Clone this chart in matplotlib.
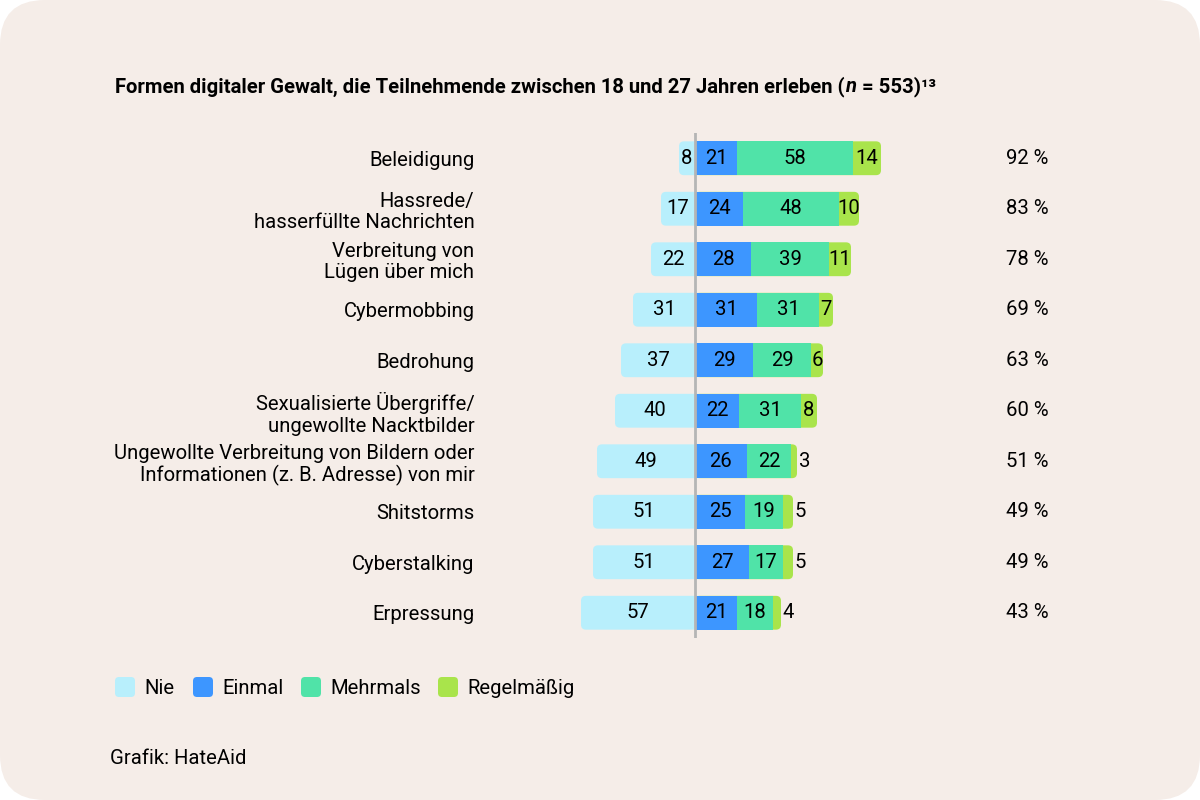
import matplotlib
matplotlib.use("Agg")
import matplotlib.pyplot as plt
from matplotlib.patches import FancyBboxPatch, Rectangle

plt.rcParams["font.family"] = ["Roboto", "DejaVu Sans"]

# data
categories = [
    "Beleidigung",
    "Hassrede/\nhasserfüllte Nachrichten",
    "Verbreitung von\nLügen über mich",
    "Cybermobbing",
    "Bedrohung",
    "Sexualisierte Übergriffe/\nungewollte Nacktbilder",
    "Ungewollte Verbreitung von Bildern oder\nInformationen (z. B. Adresse) von mir",
    "Shitstorms",
    "Cyberstalking",
    "Erpressung",
]
nie = [8, 17, 22, 31, 37, 40, 49, 51, 51, 57]
einmal = [21, 24, 28, 31, 29, 22, 26, 25, 27, 21]
mehrmals = [58, 48, 39, 31, 29, 31, 22, 19, 17, 18]
regelmaessig = [14, 10, 11, 7, 6, 8, 3, 5, 5, 4]
totals = [92, 83, 78, 69, 63, 60, 51, 49, 49, 43]
legend_labels = ["Nie", "Einmal", "Mehrmals", "Regelmäßig"]

C_NIE = "#b8effc"
C_EIN = "#3d96ff"
C_MEHR = "#50e3a8"
C_REG = "#a9e44b"
colors = [C_NIE, C_EIN, C_MEHR, C_REG]
BG = "#f5ede8"
FS = 14.6

fig = plt.figure(figsize=(12, 8), dpi=100, facecolor="white")
# rounded background card
fig.patches.append(FancyBboxPatch((0, 0), 12, 8, boxstyle="round,pad=0,rounding_size=0.45",
                                  transform=fig.dpi_scale_trans, facecolor=BG,
                                  edgecolor="none", zorder=-10))

# axes: 2 px per percent, zero line at x=695 px
ax = fig.add_axes([480 / 1200, 1 - 638 / 800, 600 / 1200, (638 - 133) / 800])
ax.set_xlim(-107.5, 192.5)
ax.set_ylim(len(categories) - 0.5, -0.5)
ax.patch.set_visible(False)
for s in ax.spines.values():
    s.set_visible(False)
ax.set_xticks([])
ax.set_yticks(range(len(categories)))
ax.set_yticklabels(categories, fontsize=FS, linespacing=1.15)
ax.tick_params(axis="y", length=0, pad=4)

h = 0.67
rx = 2.5                    # corner radius in x units
aspect = (5 / 50.5) / rx    # same radius in y units


def rbox(x0, x1, y, color, z):
    p = FancyBboxPatch((x0, y - h / 2), x1 - x0, h,
                       boxstyle=f"round,pad=0,rounding_size={rx}",
                       mutation_aspect=aspect, facecolor=color, edgecolor="none", zorder=z)
    ax.add_patch(p)


for i in range(len(categories)):
    e, m, r, n = einmal[i], mehrmals[i], regelmaessig[i], nie[i]
    tot = e + m + r
    rbox(-n, 4, i, C_NIE, 1)
    rbox(0, tot, i, C_REG, 1.5)
    ax.add_patch(Rectangle((0, i - h / 2), e, h, facecolor=C_EIN, edgecolor="none", zorder=2))
    ax.add_patch(Rectangle((e, i - h / 2), m, h, facecolor=C_MEHR, edgecolor="none", zorder=2))

    kw = dict(va="center", fontsize=FS, color="black", zorder=5)
    ax.text(-n / 2, i, str(n), ha="center", **kw)
    ax.text(e / 2, i, str(e), ha="center", **kw)
    ax.text(e + m / 2, i, str(m), ha="center", **kw)
    if r >= 6:
        ax.text(e + m + r / 2, i, str(r), ha="center", **kw)
    else:
        ax.text(tot + 0.8, i, str(r), ha="left", **kw)
    ax.text(155.5, i, f"{totals[i]} %", ha="left", **kw)

ax.axvline(0, color="#b5b5b5", lw=2, zorder=4)

# title, pieced together for italic n and superscript
fig.canvas.draw()
rend = fig.canvas.get_renderer()
parts = [("Formen digitaler Gewalt, die Teilnehmende zwischen 18 und 27 Jahren erleben (", "normal"),
         ("n", "italic"), (" = 553)¹³", "normal")]
x = 115
for txt, style in parts:
    t = fig.text(x / 1200, 1 - 87 / 800, txt, fontsize=FS, fontweight="bold", style=style,
                 va="center", ha="left")
    bb = t.get_window_extent(renderer=rend)
    x = bb.x1 + (1 if style == "italic" else 0)

# legend
lx = [115, 193, 301, 438]
for xx, lab, c in zip(lx, legend_labels, colors):
    fig.patches.append(FancyBboxPatch((xx, 800 - 697), 20, 20,
                                      boxstyle="round,pad=0,rounding_size=4",
                                      transform=None, facecolor=c, edgecolor="none"))
    fig.text((xx + 29) / 1200, 1 - 688 / 800, lab, fontsize=FS, va="center", ha="left")

fig.text(110 / 1200, 1 - 759 / 800, "Grafik: HateAid", fontsize=FS, va="center", ha="left")

fig.savefig("out.png", dpi=100, facecolor="white")
